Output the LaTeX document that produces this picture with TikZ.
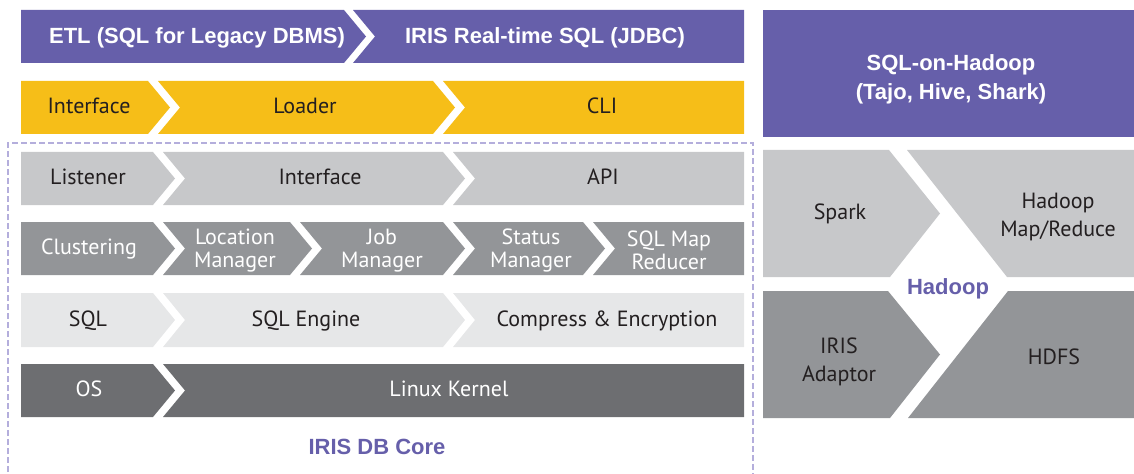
\documentclass[tikz,border=0pt]{standalone}
\usepackage{fontspec}
\setmainfont{PT Sans}
\newfontfamily\hfont{Liberation Sans}
\definecolor{cpurple}{HTML}{665FAA}
\definecolor{cyellow}{HTML}{F6BE18}
\definecolor{cgreyA}{HTML}{C7C8CA}
\definecolor{cgreyB}{HTML}{939598}
\definecolor{cgreyC}{HTML}{E6E7E8}
\definecolor{cgreyD}{HTML}{6D6E71}
\definecolor{cdash}{HTML}{B4AEDC}
\definecolor{ctxt}{HTML}{231F20}
% #1 colour, #2 left x, #3 right x, #4 top y, #5 bottom y, #6 left notch depth, #7 right point depth
\newcommand\chevseg[7]{%
  \fill[#1] (#2,#4) -- (#3,#4) -- ({#3+#7},{(#4+#5)/2}) -- (#3,#5) -- (#2,#5) -- ({#2+#6},{(#4+#5)/2}) -- cycle;}
\tikzset{
  lbl/.style={font=\fontsize{16.5}{18}\selectfont, text=ctxt, inner sep=0pt, text height=0.95em, text depth=0pt},
  lblw/.style={lbl, text=white},
  twoline/.style={font=\fontsize{16.5}{17.3}\selectfont, text=ctxt, inner sep=0pt, align=center},
  twolinew/.style={twoline, text=white},
  twowide/.style={font=\fontsize{16.5}{21}\selectfont, text=ctxt, inner sep=0pt, align=center},
  hd/.style={font=\hfont\bfseries\fontsize{16.5}{21.75}\selectfont, text=white, inner sep=0pt, align=center},
  hdp/.style={hd, text=cpurple},
  dashline/.style={draw=cdash, line width=1.8pt, dash pattern=on 4.5pt off 2.25pt}
}
\begin{document}
\begin{tikzpicture}[x=0.75pt,y=-0.75pt]
\useasboundingbox (0,0) rectangle (1134,474);
\begin{scope}
\clip (0,0) rectangle (1134,474);
% dashed core border
\draw[dashline] (8,490) -- (8,143) -- (753,143) -- (753,490);
% row 1
\chevseg{cpurple}{21}{344}{10}{63}{0}{22}
\chevseg{cpurple}{353}{744}{10}{63}{22}{0}
% row 2
\chevseg{cyellow}{21}{148}{81}{134}{0}{22}
\chevseg{cyellow}{158}{433}{81}{134}{22}{22}
\chevseg{cyellow}{443}{744}{81}{134}{22}{0}
% row 3
\chevseg{cgreyA}{21}{153}{152}{205}{0}{22}
\chevseg{cgreyA}{163}{443}{152}{205}{22}{22}
\chevseg{cgreyA}{453}{744}{152}{205}{22}{0}
% row 4
\chevseg{cgreyB}{21}{153}{222}{275}{0}{22}
\chevseg{cgreyB}{163}{290}{222}{275}{22}{22}
\chevseg{cgreyB}{300}{443}{222}{275}{22}{22}
\chevseg{cgreyB}{453}{583}{222}{275}{22}{22}
\chevseg{cgreyB}{593}{744}{222}{275}{22}{0}
% row 5
\chevseg{cgreyC}{21}{153}{293}{347}{0}{22}
\chevseg{cgreyC}{163}{443}{293}{347}{22}{22}
\chevseg{cgreyC}{453}{744}{293}{347}{22}{0}
% row 6
\chevseg{cgreyD}{21}{153}{364}{417}{0}{22}
\chevseg{cgreyD}{163}{744}{364}{417}{22}{0}
% right column
\fill[cpurple] (763,10) rectangle (1134,137);
\fill[cgreyA] (763,150) -- (889,150) -- (940,213.5) -- (890,277) -- (763,277) -- cycle;
\fill[cgreyA] (907,150) -- (1134,150) -- (1134,277) -- (1007,277) -- cycle;
\fill[cgreyB] (763,291) -- (888,291) -- (940,354.5) -- (890,418) -- (763,418) -- cycle;
\fill[cgreyB] (1008,291) -- (1134,291) -- (1134,418) -- (908,418) -- cycle;
\end{scope}
% texts
\node[hd] (etl) at (197,38) {ETL (SQL for Legacy DBMS)};
\node[hd] (rts) at (545,38) {IRIS Real-time SQL (JDBC)};
\node[lbl] (ifc) at (89,107.5) {Interface};
\node[lbl] (ldr) at (305,107.5) {Loader};
\node[lbl] (cli) at (602,107.5) {CLI};
\node[lbl] (lst) at (88,178.5) {Listener};
\node[lbl] (ifc2) at (320,178.5) {Interface};
\node[lbl] (api) at (603,178.5) {API};
\node[lblw] (clu) at (89,248.5) {Clustering};
\node[twolinew] (loc) at (235,250.5) {Location\\Manager};
\node[twolinew] (job) at (382,250.5) {Job\\Manager};
\node[twolinew] (sta) at (531,250.5) {Status\\Manager};
\node[twolinew] (smr) at (669,250.5) {SQL Map\\Reducer};
\node[lbl] (sql) at (88,320) {SQL};
\node[lbl] (eng) at (306,320) {SQL Engine};
\node[lbl] (cmp) at (607,320) {Compress \& Encryption};
\node[lblw] (os) at (89,390.5) {OS};
\node[lblw] (lk) at (449,390.5) {Linux Kernel};
\node[hdp] (core) at (377,447) {IRIS DB Core};
\node[hd] (soh) at (951,79.5) {SQL-on-Hadoop\\(Tajo, Hive, Shark)};
\node[lbl] (spk) at (840,213.5) {Spark};
\node[twowide] (hmr) at (1058,216.5) {Hadoop\\Map/Reduce};
\node[hdp] (hdp) at (948,289) {Hadoop};
\node[twowide] (ada) at (839,362) {IRIS\\Adaptor};
\node[lbl] (hdfs) at (1054,358) {HDFS};
\end{tikzpicture}
\end{document}
